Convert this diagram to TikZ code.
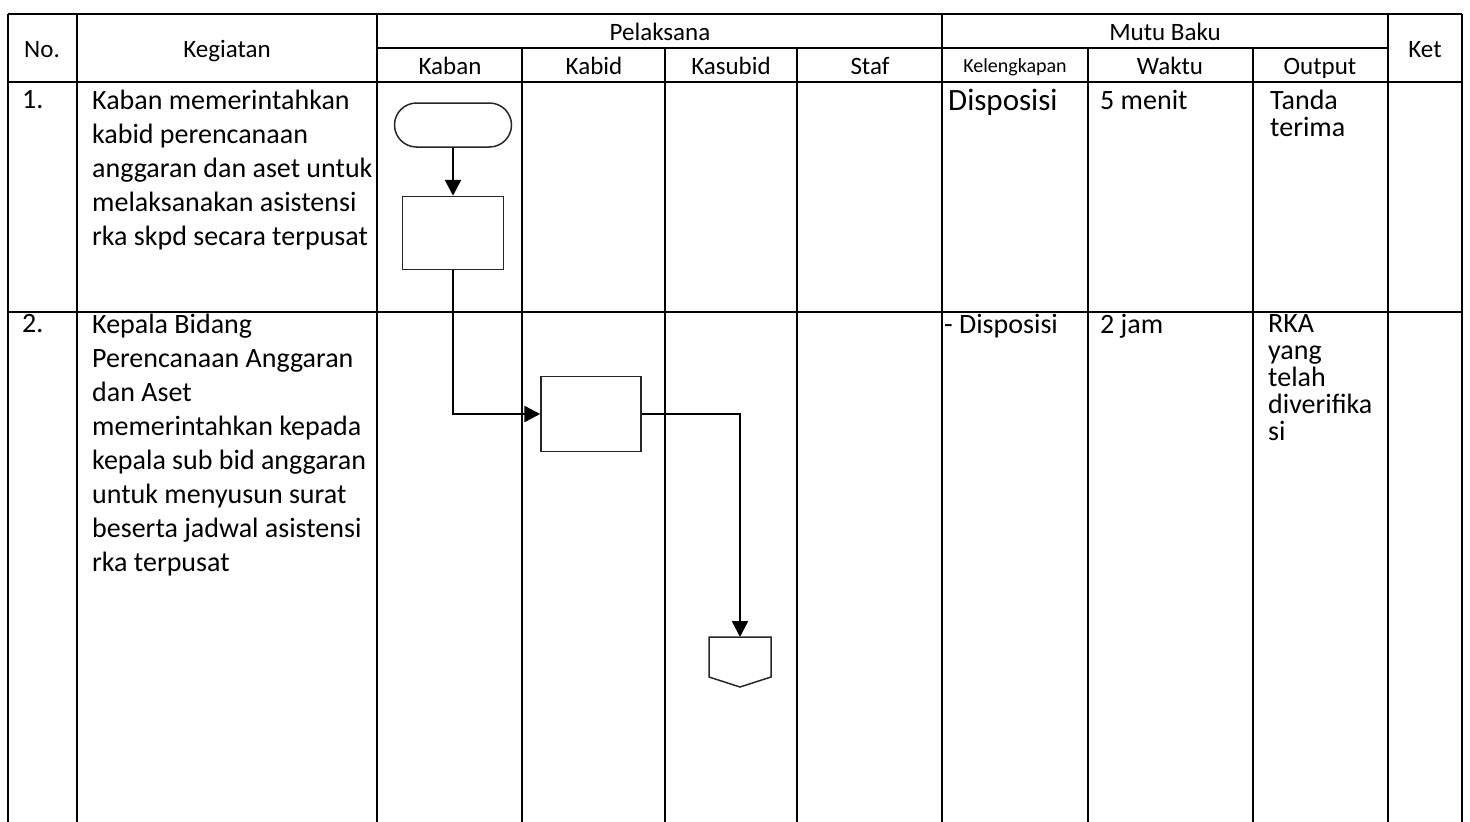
\documentclass[tikz,border=0pt]{standalone}
\usepackage{fontspec}
\setmainfont{Carlito}
\usetikzlibrary{arrows.meta,positioning}
\definecolor{gridLine}{HTML}{000000}
\definecolor{shapeLine}{HTML}{262626}

\begin{document}
\begin{tikzpicture}[
        x=1pt, y=-1pt,
        grid/.style={draw=gridLine, line width=2.3pt},
        head/.style={anchor=base, inner sep=0pt, font=\fontsize{25}{30}\selectfont},
        cell/.style={anchor=north west, align=left, inner sep=0pt, font=\fontsize{28}{34}\selectfont},
        narrow/.style={cell, font=\fontsize{28}{27}\selectfont},
        flowbox/.style={rectangle, draw=shapeLine, line width=1.5pt, minimum width=101pt, minimum height=73pt},
        terminal/.style={rectangle, rounded corners=22pt, draw=shapeLine, line width=1.5pt, minimum width=117pt, minimum height=44pt},
        flowline/.style={draw=shapeLine, line width=1.5pt},
        arrow/.style={-{Triangle[length=16pt,width=16pt]}, line width=2.5pt}
      ]
        \useasboundingbox (0,0) rectangle (1470,822);
        % table grid
        \draw[grid] (8,14) -- (1462,14);
        \draw[grid] (377,48) -- (1388,48);
        \draw[grid] (8,82) -- (1462,82);
        \draw[grid] (8,312) -- (1462,312);
        \foreach \x in {8,77,377,942,1388,1462}
          \draw[grid] (\x,14) -- (\x,822);
        \foreach \x in {522,665,797,1088,1253}
          \draw[grid] (\x,48) -- (\x,822);
        % header
        \node[head] (hNo) at (42,57) {No.};
        \node[head] (hKeg) at (227,57) {Kegiatan};
        \node[head] (hPel) at (660,40) {Pelaksana};
        \node[head] (hMutu) at (1165,40) {Mutu Baku};
        \node[head] (hKet) at (1425,57) {Ket};
        \node[head] (hKaban) at (450,74) {Kaban};
        \node[head] (hKabid) at (594,74) {Kabid};
        \node[head] (hKasubid) at (731,74) {Kasubid};
        \node[head] (hStaf) at (870,74) {Staf};
        \node[head, font=\fontsize{20}{24}\selectfont] (hLengkap) at (1015,72) {Kelengkapan};
        \node[head] (hWaktu) at (1170,74) {Waktu};
        \node[head] (hOutput) at (1320,74) {Output};
        % row 1
        \node[cell] (no1) at (22,90) {1.};
        \node[cell] (keg1) at (92,90) {Kaban memerintahkan\\kabid perencanaan\\anggaran dan aset untuk\\melaksanakan asistensi\\rka skpd secara terpusat};
        \node[cell, font=\fontsize{31}{36}\selectfont] (leng1) at (948,89) {Disposisi};
        \node[cell] (waktu1) at (1100,90) {5 menit};
        \node[narrow] (out1) at (1270,90) {Tanda\\terima};
        % row 2
        \node[cell] (no2) at (22,314) {2.};
        \node[cell] (keg2) at (92,314) {Kepala Bidang\\Perencanaan Anggaran\\dan Aset\\memerintahkan kepada\\kepala sub bid anggaran\\untuk menyusun surat\\beserta jadwal asistensi\\rka terpusat};
        \node[cell] (leng2) at (944,314) {- Disposisi};
        \node[cell] (waktu2) at (1100,314) {2 jam};
        \node[narrow] (out2) at (1268,314) {RKA\\yang\\telah\\diverifika\\si};
        % flow
        \node[terminal] (start) at (453,125) {};
        \node[flowbox] (kabanBox) at (453,233) {};
        \node[flowbox, minimum width=100pt, minimum height=75pt] (kabidBox) at (591,414) {};
        \coordinate (offpage) at (740,637);
        \draw[flowline] (offpage) -- ++(31,0) -- ++(0,40) -- ++(-31,10) -- ++(-31,-10) -- ++(0,-40) -- cycle;
        \draw[arrow] (start) -- (kabanBox);
        \draw[arrow] (kabanBox.south) |- (kabidBox.west);
        \draw[arrow] (kabidBox.east) -| (offpage);
      \end{tikzpicture}
\end{document}
